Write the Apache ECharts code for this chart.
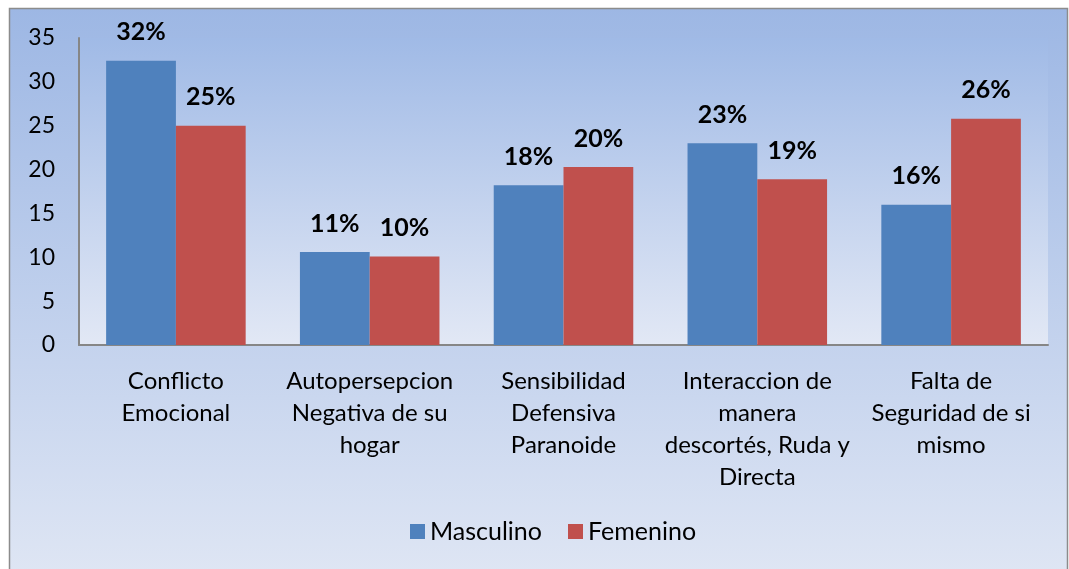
<!DOCTYPE html>
<html><head><meta charset="utf-8">
<script src="https://cdn.jsdelivr.net/npm/echarts@6/dist/echarts.min.js"></script>
<style>html,body{margin:0;padding:0;background:#fff}#c{width:1069px;height:569px}</style>
</head><body><div id="c"></div>
<script>
const categories = ["Conflicto\nEmocional", "Autopersepcion\nNegativa de su\nhogar", "Sensibilidad\nDefensiva\nParanoide", "Interaccion de\nmanera\ndescortés, Ruda y\nDirecta", "Falta de\nSeguridad de si\nmismo"];
const masculino = [32.4, 10.6, 18.2, 23.0, 16.0];
const femenino = [25.0, 10.1, 20.3, 18.9, 25.8];
const masculinoLabels = ["32%", "11%", "18%", "23%", "16%"];
const femeninoLabels = ["25%", "10%", "20%", "19%", "26%"];
const yTicks = [0, 5, 10, 15, 20, 25, 30, 35];

const font = "Lato, 'Open Sans', sans-serif";
const chart = echarts.init(document.getElementById('c'));
function grad(top, bottom){
  return new echarts.graphic.LinearGradient(0,0,0,1,[{offset:0,color:top},{offset:1,color:bottom}]);
}
chart.setOption({
  backgroundColor: '#fff',
  animation: false,
  graphic: [{
    type: 'rect', z: -10, silent: true,
    shape: {x: 9.5, y: 8.5, width: 1058, height: 570},
    style: {fill: grad('#9db7e4', '#dfe6f4'), stroke: '#8c8c8c', lineWidth: 1.5}
  }],
  grid: {left: 79, right: 21, top: 38, bottom: 224, show: true, borderWidth: 0,
    backgroundColor: grad('#a0bae6', '#e2e8f5')},
  legend: {
    bottom: 20, left: 405, itemWidth: 15, itemHeight: 15, itemGap: 26,
    icon: 'rect',
    textStyle: {fontFamily: font, fontSize: 25, color: '#000'},
    data: ['Masculino', 'Femenino']
  },
  xAxis: {
    type: 'category', data: categories,
    axisLine: {lineStyle: {color: '#868686', width: 2}},
    axisTick: {show: false},
    axisLabel: {fontFamily: font, fontSize: 24, color: '#000', lineHeight: 32, margin: 20, interval: 0}
  },
  yAxis: {
    type: 'value', min: 0, max: 35, interval: 5,
    axisLine: {show: true, lineStyle: {color: '#868686', width: 2}},
    axisTick: {show: false},
    splitLine: {show: false},
    axisLabel: {fontFamily: font, fontSize: 23, color: '#000', margin: 24,
      formatter: v => yTicks.includes(v) ? String(v) : ''}
  },
  series: [{
    name: 'Masculino', type: 'bar', data: masculino, barGap: '0%', barCategoryGap: '28%',
    itemStyle: {color: '#4f81bd'},
    label: {show: true, position: 'top', distance: 16, fontFamily: font, fontWeight: 'bold', fontSize: 25, color: '#000',
      formatter: p => masculinoLabels[p.dataIndex]}
  }, {
    name: 'Femenino', type: 'bar', data: femenino,
    itemStyle: {color: '#c0504d'},
    label: {show: true, position: 'top', distance: 16, fontFamily: font, fontWeight: 'bold', fontSize: 25, color: '#000',
      formatter: p => femeninoLabels[p.dataIndex]}
  }]
});
</script></body></html>
